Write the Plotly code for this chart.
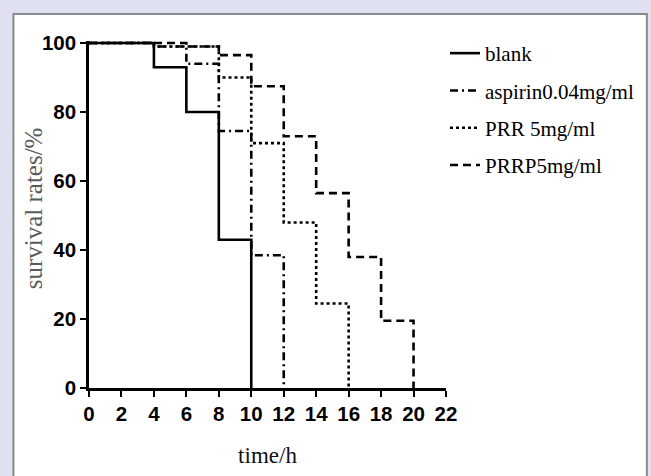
import plotly.graph_objects as go

# Kaplan-Meier style survival data (time in hours, survival in %)
blank_t = [0, 4, 6, 8, 10]
blank_s = [100, 93, 80, 43, 0]

aspirin_t = [0, 4, 6, 8, 10, 12]
aspirin_s = [100, 99, 94, 74.5, 38.5, 0]

prr_t = [0, 4, 8, 10, 12, 14, 16]
prr_s = [100, 99, 90, 71, 48, 24.5, 0]

prrp_t = [0, 6, 8, 10, 12, 14, 16, 18, 20]
prrp_s = [100, 99, 96.5, 87.5, 73, 56.5, 38, 19.5, 0]

series = [
    ("blank", blank_t, blank_s, "solid"),
    ("aspirin0.04mg/ml", aspirin_t, aspirin_s, "8px,4px,2px,4px"),
    ("PRR 5mg/ml", prr_t, prr_s, "dot"),
    ("PRRP5mg/ml", prrp_t, prrp_s, "8px,5px"),
]

x_ticks = list(range(0, 23, 2))
y_ticks = [0, 20, 40, 60, 80, 100]

tick_font = dict(family="Liberation Sans, Arial, sans-serif", size=20.5, color="black",
                 weight="bold")
serif = "Liberation Serif, Times New Roman, serif"

fig = go.Figure()
for i, (name, t, s, dash) in enumerate(series):
    fig.add_trace(go.Scatter(
        x=t, y=s, name=name, mode="lines",
        line=dict(color="black", width=2.6, dash=dash, shape="hv"),
        legendgroup=f"g{i}",
    ))

# White framed panel on the lavender page
L, R, T, B = 89, 448, 41, 388
def px_x(p):
    return (p - L) / (R - L)
def px_y(p):
    return (B - p) / (B - T)

fig.add_shape(type="rect", xref="paper", yref="paper", layer="below",
              x0=px_x(13), x1=px_x(650), y0=px_y(482), y1=px_y(14),
              fillcolor="white", line=dict(color="#8a8a8a", width=2))

# Vertical axis title
fig.add_annotation(text="survival rates/%", xref="paper", yref="paper",
                   x=px_x(33), y=px_y(208), xanchor="center", yanchor="middle",
                   textangle=-90, showarrow=False,
                   font=dict(family=serif, size=25, color="#5a5a5a"))

fig.update_layout(
    width=651, height=476,
    margin=dict(l=L, r=651 - R, t=T, b=476 - B),
    paper_bgcolor="#dfe1f1",
    plot_bgcolor="white",
    showlegend=True,
    legend=dict(x=px_x(447), y=px_y(33), xanchor="left", yanchor="top",
                font=dict(family=serif, size=21, color="black"),
                bgcolor="rgba(0,0,0,0)", tracegroupgap=7, itemwidth=30),
    xaxis=dict(range=[0, 22], tickvals=x_ticks, ticktext=[str(v) for v in x_ticks],
               showgrid=False, zeroline=False, showline=True, linecolor="black",
               linewidth=2.6, ticks="outside", ticklen=6, tickwidth=2, tickcolor="black",
               tickfont=tick_font,
               title=dict(text="time/h", font=dict(family=serif, size=23, color="#111"),
                          standoff=23)),
    yaxis=dict(range=[0, 100.6], tickvals=y_ticks, ticktext=[str(v) for v in y_ticks],
               showgrid=False, zeroline=False, showline=True, linecolor="black",
               linewidth=2.6, ticks="outside", ticklen=6, tickwidth=2, tickcolor="black",
               tickfont=tick_font),
)

fig.write_html("out.html")
